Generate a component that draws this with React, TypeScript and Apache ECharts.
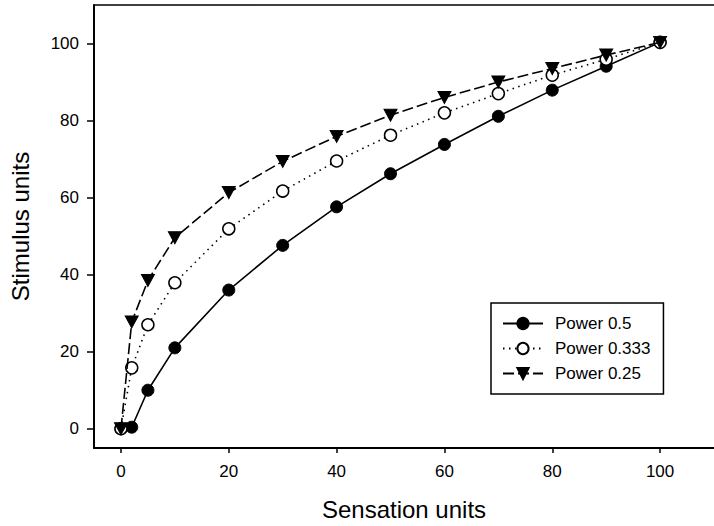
import React, { useEffect, useRef } from "react";
import * as echarts from "echarts";

const sensation = [0, 2, 5, 10, 20, 30, 40, 50, 60, 70, 80, 90, 100];
const power05 = [0, 0.4, 10, 21, 36, 47.6, 57.6, 66.2, 73.8, 81.1, 87.9, 94.1, 100.3];
const power0333 = [0, 15.8, 27, 37.9, 51.9, 61.7, 69.5, 76.2, 82, 87, 91.8, 95.9, 100.3];
const power025 = [0, 27.7, 38.5, 49.6, 61.3, 69.4, 75.9, 81.4, 86, 90, 93.5, 97, 100.3];
const xTicks = [0, 20, 40, 60, 80, 100];
const yTicks = [0, 20, 40, 60, 80, 100];
const seriesNames = ["Power 0.5", "Power 0.333", "Power 0.25"];

const FONT = "Liberation Sans, Arial, sans-serif";

export default function App() {
  const ref = useRef<HTMLDivElement>(null);
  useEffect(() => {
    if (!ref.current) return;
    const chart = echarts.init(ref.current, null, { renderer: "svg" });
    const pts = (ys: number[]) => sensation.map((x, i) => [x, ys[i]]);
    chart.setOption({
      animation: false,
      backgroundColor: "#fff",
      textStyle: { fontFamily: FONT, color: "#000" },
      grid: {
        left: 90,
        top: 5,
        width: 632,
        height: 443,
        show: false,
      },
      xAxis: [
        {
          type: "value",
          min: -5,
          max: 110,
          position: "bottom",
          name: "Sensation units",
          nameLocation: "middle",
          nameGap: 49,
          nameTextStyle: { fontSize: 24, fontFamily: FONT, color: "#000" },
          axisLine: { show: true, onZero: false, lineStyle: { color: "#000", width: 2 } },
          axisTick: { show: true, length: 5, lineStyle: { color: "#000", width: 1.5 }, customValues: xTicks },
          axisLabel: { fontSize: 17, fontFamily: FONT, color: "#000", margin: 15, customValues: xTicks },
          splitLine: { show: false },
        },
        {
          type: "value",
          min: -5,
          max: 110,
          position: "top",
          axisLine: { show: true, onZero: false, lineStyle: { color: "#000", width: 1.5 } },
          axisTick: { show: false },
          axisLabel: { show: false },
          splitLine: { show: false },
        },
      ],
      yAxis: {
        type: "value",
        min: -5,
        max: 110,
        name: "Stimulus units",
        nameLocation: "middle",
        nameGap: 62,
        nameTextStyle: { fontSize: 24, fontFamily: FONT, color: "#000" },
        axisLine: { show: true, onZero: false, lineStyle: { color: "#000", width: 2 } },
        axisTick: { show: true, length: 7, lineStyle: { color: "#000", width: 1.5 }, customValues: yTicks },
        axisLabel: { fontSize: 17, fontFamily: FONT, color: "#000", margin: 15, customValues: yTicks },
        splitLine: { show: false },
      },
      legend: {
        orient: "vertical",
        left: 491,
        top: 303,
        itemWidth: 40,
        itemHeight: 14,
        itemGap: 8,
        padding: [12, 13, 12, 11],
        borderColor: "#000",
        borderWidth: 1.5,
        backgroundColor: "#fff",
        textStyle: { fontSize: 17, fontFamily: FONT, color: "#000", padding: [0, 0, 0, 7] },
        data: seriesNames,
      },
      series: [
        {
          name: seriesNames[0],
          type: "line",
          xAxisIndex: 0,
          data: pts(power05),
          symbol: "circle",
          symbolSize: 12,
          itemStyle: { color: "#000", borderColor: "#000", borderWidth: 1 },
          lineStyle: { color: "#000", width: 1.6, type: "solid" },
          z: 3,
        },
        {
          name: seriesNames[1],
          type: "line",
          xAxisIndex: 0,
          data: pts(power0333),
          symbol: "circle",
          symbolSize: 12,
          itemStyle: { color: "#fff", borderColor: "#000", borderWidth: 1.5 },
          lineStyle: { color: "#000", width: 1.6, type: [1.5, 4.5] },
          z: 4,
        },
        {
          name: seriesNames[2],
          type: "line",
          xAxisIndex: 0,
          data: pts(power025),
          symbol: "triangle",
          symbolRotate: 180,
          symbolSize: [13, 12],
          itemStyle: { color: "#000", borderColor: "#000", borderWidth: 1 },
          lineStyle: { color: "#000", width: 1.6, type: [11, 4] },
          z: 5,
        },
      ],
    });
    return () => chart.dispose();
  }, []);
  return (
    <div
      ref={ref}
      style={{ position: "absolute", left: 0, top: 0, width: 714, height: 526, overflow: "hidden" }}
    />
  );
}
